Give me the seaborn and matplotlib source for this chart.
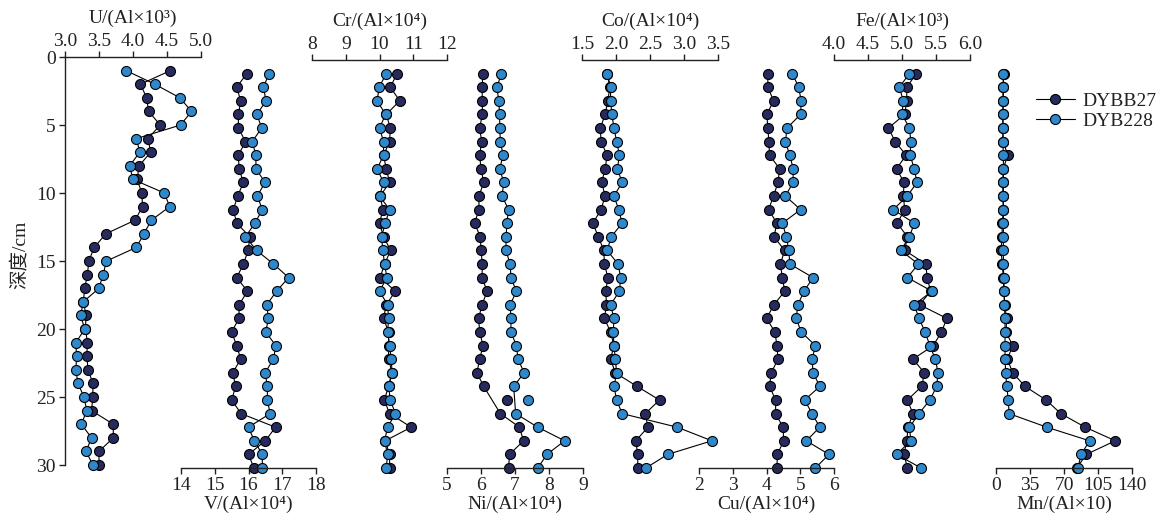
import numpy as np
import pandas as pd
import matplotlib
matplotlib.use("Agg")
import matplotlib.pyplot as plt
import seaborn as sns

# ---------------- data ----------------
depth = [1, 2, 3, 4, 5, 6, 7, 8, 9, 10, 11, 12, 13, 14, 15,
         16, 17, 18, 19, 20, 21, 22, 23, 24, 25, 26, 27, 28, 29, 30]
series_names = ["DYBB27", "DYB228"]

u_b27 = [4.55, 4.11, 4.20, 4.23, 4.40, 4.22, 4.26, 4.09, 4.06, 4.13, 4.14, 4.03, 3.60, 3.43, 3.35,
         3.33, 3.29, 3.27, 3.31, 3.30, 3.33, 3.32, 3.34, 3.41, 3.41, 3.39, 3.71, 3.71, 3.50, 3.50]
u_b228 = [3.90, 4.32, 4.69, 4.86, 4.70, 4.05, 4.10, 3.95, 4.00, 4.46, 4.54, 4.27, 4.16, 4.05, 3.61,
          3.56, 3.50, 3.27, 3.23, 3.29, 3.16, 3.17, 3.16, 3.19, 3.28, 3.32, 3.24, 3.39, 3.31, 3.41]

v_b27 = [15.95, 15.65, 15.77, 15.70, 15.70, 15.91, 15.70, 15.72, 15.85, 15.68, 15.55, 15.65, 16.04, 15.99, 15.85,
         15.65, 15.97, 15.72, 15.72, 15.50, 15.65, 15.77, 15.53, 15.62, 15.50, 15.78, 16.80, 16.50, 16.00, 16.16]
v_b228 = [16.61, 16.44, 16.52, 16.25, 16.39, 16.11, 16.22, 16.22, 16.49, 16.26, 16.41, 16.19, 15.91, 16.24, 16.74,
          17.19, 16.83, 16.54, 16.59, 16.51, 16.81, 16.74, 16.49, 16.56, 16.56, 16.64, 16.00, 16.17, 16.41, 16.41]

cr_b27 = [10.52, 10.32, 10.60, 10.20, 10.32, 10.30, 10.12, 10.20, 10.30, 10.02, 10.10, 10.00, 10.12, 10.33, 10.15,
          10.02, 10.47, 10.20, 10.12, 10.27, 10.27, 10.27, 10.37, 10.27, 10.14, 10.30, 10.94, 10.17, 10.30, 10.30]
cr_b228 = [10.20, 9.99, 9.93, 10.18, 10.00, 10.12, 10.12, 9.93, 10.12, 10.00, 10.30, 10.17, 10.06, 10.10, 10.15,
           10.22, 10.00, 10.24, 10.27, 10.24, 10.30, 10.35, 10.37, 10.27, 10.32, 10.47, 10.24, 10.15, 10.24, 10.20]

ni_b27 = [6.06, 6.03, 6.04, 6.04, 5.96, 6.02, 5.96, 6.00, 6.08, 5.94, 5.94, 5.81, 5.98, 6.00, 6.04,
          6.03, 6.18, 6.03, 5.93, 5.96, 6.06, 5.96, 5.88, 6.08, 6.76, 6.57, 7.13, 7.25, 6.84, 6.81]
ni_b228 = [6.60, 6.47, 6.52, 6.55, 6.55, 6.57, 6.65, 6.55, 6.67, 6.62, 6.81, 6.76, 6.74, 6.73, 6.86,
           6.88, 7.04, 6.86, 6.88, 6.88, 7.04, 7.09, 7.27, 6.96, 7.37, 7.02, 7.67, 8.46, 7.94, 7.67]
ni_unconnected = [25]

co_b27 = [1.87, 1.91, 1.88, 1.84, 1.77, 1.78, 1.87, 1.84, 1.79, 1.84, 1.78, 1.66, 1.74, 1.82, 1.83,
          1.88, 1.85, 1.86, 1.83, 1.92, 1.97, 1.92, 1.99, 2.31, 2.64, 2.43, 2.47, 2.29, 2.32, 2.32]
co_b228 = [1.87, 1.92, 1.92, 1.94, 1.97, 2.01, 2.05, 2.02, 2.09, 1.97, 2.04, 2.09, 1.93, 1.87, 2.03,
           2.07, 2.05, 1.92, 1.97, 1.96, 1.97, 1.99, 2.01, 1.97, 2.01, 2.09, 2.90, 3.41, 2.76, 2.44]

cu_b27 = [4.04, 4.04, 4.21, 4.01, 4.04, 4.07, 4.09, 4.39, 4.34, 4.21, 4.06, 4.31, 4.22, 4.54, 4.41,
          4.47, 4.54, 4.22, 4.00, 4.25, 4.31, 4.34, 4.14, 4.09, 4.27, 4.27, 4.49, 4.51, 4.32, 4.31]
cu_b228 = [4.77, 4.95, 5.03, 5.01, 4.61, 4.56, 4.69, 4.79, 4.79, 4.56, 5.01, 4.47, 4.59, 4.66, 4.69,
           5.38, 5.11, 4.93, 4.88, 5.03, 5.45, 5.35, 5.38, 5.58, 5.13, 5.35, 5.58, 5.18, 5.85, 5.45]

fe_b27 = [5.21, 5.07, 5.07, 5.04, 4.80, 4.90, 5.06, 4.92, 5.03, 5.02, 5.04, 4.93, 5.08, 5.04, 5.35,
          5.37, 5.42, 5.26, 5.66, 5.58, 5.46, 5.16, 5.33, 5.29, 5.08, 5.16, 5.09, 5.07, 5.03, 5.08]
fe_b228 = [5.11, 4.96, 5.02, 5.00, 5.11, 5.13, 5.12, 5.18, 5.22, 5.08, 4.87, 5.18, 5.11, 4.98, 5.24,
           5.08, 5.44, 5.18, 5.25, 5.34, 5.41, 5.49, 5.53, 5.51, 5.41, 5.25, 5.11, 5.13, 4.92, 5.28]

mn_b27 = [8.0, 7.5, 7.5, 7.0, 7.0, 7.5, 12.0, 7.5, 7.0, 7.0, 7.5, 6.5, 6.2, 5.2, 6.5,
          7.5, 8.0, 9.0, 11.0, 10.3, 17.2, 11.7, 17.2, 29.9, 51.6, 66.7, 91.8, 122.8, 92.9, 83.2]
mn_b228 = [7.6, 7.2, 7.2, 7.2, 7.2, 7.0, 7.6, 7.6, 7.6, 7.6, 7.6, 7.6, 7.6, 7.6, 7.6,
           8.0, 8.6, 8.6, 9.3, 9.3, 9.3, 9.3, 10.0, 11.0, 12.7, 13.4, 52.3, 96.3, 87.7, 84.3]

u_ticks = [3.0, 3.5, 4.0, 4.5, 5.0]
v_ticks = [14, 15, 16, 17, 18]
cr_ticks = [8, 9, 10, 11, 12]
ni_ticks = [5, 6, 7, 8, 9]
co_ticks = [1.5, 2.0, 2.5, 3.0, 3.5]
cu_ticks = [2, 3, 4, 5, 6]
fe_ticks = [4.0, 4.5, 5.0, 5.5, 6.0]
mn_ticks = [0, 35, 70, 105, 140]
depth_ticks = [0, 5, 10, 15, 20, 25, 30]

# ---------------- style ----------------
sns.set_style("ticks")
plt.rcParams["font.family"] = ["Liberation Serif", "DejaVu Serif", "Noto Sans CJK SC"]
plt.rcParams["axes.unicode_minus"] = False
TXT = "#222222"
FS = 14
colors = {"DYBB27": "#262a5c", "DYB228": "#2e88cb"}

W, H = 1160, 520
fig = plt.figure(figsize=(W / 100, H / 100), dpi=100)


def make_axes(x0, x1, y0, y1):
    ax = fig.add_axes([x0 / W, 1 - y1 / H, (x1 - x0) / W, (y1 - y0) / H])
    ax.patch.set_alpha(0)
    return ax


def draw_series(ax, vals, name, gaps=()):
    df = pd.DataFrame({"depth": depth, "value": vals})
    conn = df[~df["depth"].isin(gaps)]
    style = dict(color="black", lw=0.8, marker="o", markersize=7.2,
                 markerfacecolor=colors[name], markeredgecolor="black",
                 markeredgewidth=0.8, clip_on=False)
    sns.lineplot(data=conn, x="value", y="depth", orient="y", sort=True,
                 estimator=None, ax=ax, legend=False, label=name, **style)
    iso = df[df["depth"].isin(gaps)]
    if len(iso):
        sns.scatterplot(data=iso, x="value", y="depth", ax=ax, legend=False,
                        s=52, color=colors[name], edgecolor="black",
                        linewidth=0.8, clip_on=False, zorder=3)


def panel(x0, x1, y0, y1, ticks, ticklabels, side, label, b27, b228, gaps=(), yaxis=False):
    ax = make_axes(x0, x1, y0, y1)
    draw_series(ax, b27, "DYBB27", gaps)
    draw_series(ax, b228, "DYB228", gaps)
    ax.set_xlim(ticks[0], ticks[-1])
    ax.set_ylim(30, 0)
    ax.set_xticks(ticks)
    ax.set_xticklabels(ticklabels)
    for s in ["top", "bottom", "left", "right"]:
        ax.spines[s].set_visible(False)
    ax.spines[side].set_visible(True)
    ax.spines[side].set_color(TXT)
    ax.spines[side].set_linewidth(1.0)
    if side == "top":
        ax.xaxis.tick_top()
        ax.xaxis.set_label_position("top")
        lp, tp = 7, 0.5
    else:
        lp, tp = 1, 2
    ax.tick_params(axis="x", direction="out", length=4.5, width=1.0, color=TXT,
                   labelsize=FS, labelcolor=TXT, pad=tp)
    ax.set_xlabel(label, fontsize=FS, color=TXT, labelpad=lp)
    if yaxis:
        ax.spines["left"].set_visible(True)
        ax.spines["left"].set_color(TXT)
        ax.spines["left"].set_linewidth(1.0)
        ax.set_yticks(depth_ticks)
        ax.set_yticklabels([str(t) for t in depth_ticks])
        ax.tick_params(axis="y", direction="out", length=4.5, width=1.0, color=TXT,
                       labelsize=FS, labelcolor=TXT, pad=2)
        ax.set_ylabel("深度/cm", fontsize=FS, color=TXT)
        ax.yaxis.set_label_coords(-0.27, 0.515)
    else:
        ax.set_yticks([])
        ax.set_ylabel("")
    return ax


fmt1 = lambda ts: [f"{t:.1f}" for t in ts]
fmt0 = lambda ts: [f"{t:g}" for t in ts]

panel(65, 201, 57, 465, u_ticks, fmt1(u_ticks), "top", "U/(Al×10³)", u_b27, u_b228, yaxis=True)
panel(181, 316, 60, 468, v_ticks, fmt0(v_ticks), "bottom", "V/(Al×10⁴)", v_b27, v_b228)
panel(312, 447, 60, 468, cr_ticks, fmt0(cr_ticks), "top", "Cr/(Al×10⁴)", cr_b27, cr_b228)
panel(447, 583, 60, 468, ni_ticks, fmt0(ni_ticks), "bottom", "Ni/(Al×10⁴)", ni_b27, ni_b228, gaps=ni_unconnected)
panel(582, 718, 60, 468, co_ticks, fmt1(co_ticks), "top", "Co/(Al×10⁴)", co_b27, co_b228)
panel(699, 834, 60, 468, cu_ticks, fmt0(cu_ticks), "bottom", "Cu/(Al×10⁴)", cu_b27, cu_b228)
panel(834, 970, 60, 468, fe_ticks, fmt1(fe_ticks), "top", "Fe/(Al×10³)", fe_b27, fe_b228)
ax_mn = panel(996, 1132, 60, 468, mn_ticks, fmt0(mn_ticks), "bottom", "Mn/(Al×10)", mn_b27, mn_b228)

handles, labels = ax_mn.get_legend_handles_labels()
leg = fig.legend(handles[:2], labels[:2], loc="upper left",
                 bbox_to_anchor=(1036 / W, 1 - 92 / H), frameon=False,
                 fontsize=FS, handlelength=2.0, handletextpad=0.4,
                 labelspacing=0.15, borderpad=0, borderaxespad=0)
for t in leg.get_texts():
    t.set_color(TXT)

fig.savefig("out.png", dpi=100)
